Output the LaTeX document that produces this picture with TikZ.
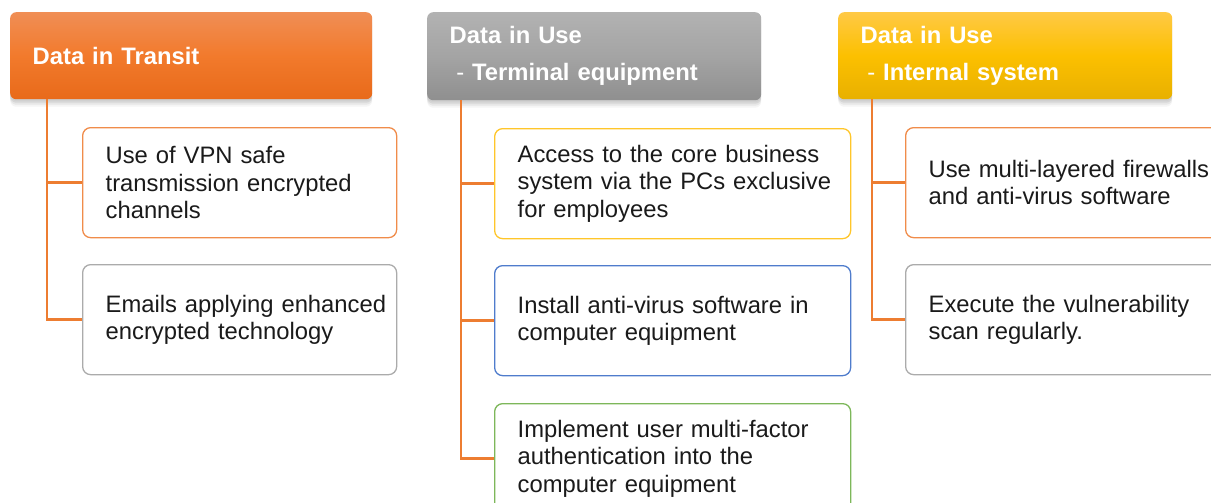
\documentclass[tikz,border=0pt]{standalone}
\usepackage{fontspec}
\setmainfont{Liberation Sans}
\usetikzlibrary{shadows}
\definecolor{connorange}{HTML}{ED7D31}
\definecolor{orTop}{HTML}{F08E55}
\definecolor{orMid}{HTML}{F27A2C}
\definecolor{orBot}{HTML}{E86A1A}
\definecolor{grTop}{HTML}{B2B2B2}
\definecolor{grMid}{HTML}{A4A4A4}
\definecolor{grBot}{HTML}{8F8F8F}
\definecolor{ylTop}{HTML}{FFC945}
\definecolor{ylMid}{HTML}{FCC000}
\definecolor{ylBot}{HTML}{E8B000}
\definecolor{bdOrange}{HTML}{F08C4A}
\definecolor{bdGray}{HTML}{ABABAB}
\definecolor{bdYellow}{HTML}{FFC62A}
\definecolor{bdBlue}{HTML}{4F7CCC}
\definecolor{bdGreen}{HTML}{7DB75A}
\definecolor{bodytext}{HTML}{1A1A1A}
\newcommand{\myl}[1]{\mbox{#1}}
\begin{document}
\begin{tikzpicture}[x=1pt,y=-1pt,
  hshadow/.style={general shadow={fill=black,opacity=0.05,shadow yshift=-1.5pt},
                  general shadow={fill=black,opacity=0.07,shadow yshift=-3.5pt},
                  general shadow={fill=black,opacity=0.06,shadow yshift=-5.5pt},
                  general shadow={fill=black,opacity=0.04,shadow yshift=-7.5pt}},
  header/.style={anchor=north west, rounded corners=6pt, text=white,
    font=\fontsize{23.8}{37}\selectfont\bfseries, align=left,
    inner xsep=22.5pt, inner ysep=0pt, hshadow},
  bodybox/.style={anchor=north west, rounded corners=8pt, draw, line width=1.3pt,
    fill=white, align=left, inner xsep=23pt, inner ysep=0pt,
    minimum height=110pt, text=bodytext,
    font=\fontsize{23.8}{27.3}\selectfont},
  connline/.style={draw=connorange, line width=2.4pt}
]
\path[use as bounding box] (0,0) rectangle (1211,503);
\clip (0,0) rectangle (1211,503);

% body boxes
\node[bodybox, draw=bdOrange, text width=268pt, minimum width=314pt] (b1a) at (82,127)
  {\myl{Use of VPN safe}\\\myl{transmission encrypted}\\\myl{channels}};
\node[bodybox, draw=bdGray, text width=268pt, minimum width=314pt] (b1b) at (82,264)
  {\myl{Emails applying enhanced}\\\myl{encrypted technology}};

\node[bodybox, draw=bdYellow, text width=310pt, minimum width=356pt] (b2a) at (494,128)
  {\myl{Access to the core business}\\\myl{system via the PCs exclusive}\\\myl{for employees}};
\node[bodybox, draw=bdBlue, text width=310pt, minimum width=356pt] (b2b) at (494,265)
  {\myl{Install anti-virus software in}\\\myl{computer equipment}};
\node[bodybox, draw=bdGreen, text width=310pt, minimum width=356pt] (b2c) at (494,403)
  {\myl{Implement user multi-factor}\\\myl{authentication into the}\\\myl{computer equipment}};

\node[bodybox, draw=bdOrange, text width=310pt, minimum width=356pt] (b3a) at (905,127)
  {\myl{Use multi-layered firewalls}\\\myl{and anti-virus software}};
\node[bodybox, draw=bdGray, text width=310pt, minimum width=356pt] (b3b) at (905,264)
  {\myl{Execute the vulnerability}\\\myl{scan regularly.}};

% headers
\node[header, top color=orTop, bottom color=orBot, middle color=orMid,
  text width=317pt, minimum width=362pt, minimum height=87pt] (h1) at (10,12)
  {Data in Transit};
\node[header, top color=grTop, bottom color=grBot, middle color=grMid,
  text width=289pt, minimum width=334pt, minimum height=88pt] (h2) at (427,12)
  {Data in Use\\\hspace*{6.6pt}{\mdseries -}\ Terminal equipment};
\node[header, top color=ylTop, bottom color=ylBot, middle color=ylMid,
  text width=289pt, minimum width=334pt, minimum height=87pt] (h3) at (838,12)
  {Data in Use\\\hspace*{6.6pt}{\mdseries -}\ Internal system};

% connectors
\draw[connline] ([xshift=37pt]h1.south west) |- (b1a.west);
\draw[connline] ([xshift=37pt]h1.south west) |- (b1b.west);
\draw[connline] ([xshift=34pt]h2.south west) |- (b2a.west);
\draw[connline] ([xshift=34pt]h2.south west) |- (b2b.west);
\draw[connline] ([xshift=34pt]h2.south west) |- (b2c.west);
\draw[connline] ([xshift=34pt]h3.south west) |- (b3a.west);
\draw[connline] ([xshift=34pt]h3.south west) |- (b3b.west);
\end{tikzpicture}
\end{document}
